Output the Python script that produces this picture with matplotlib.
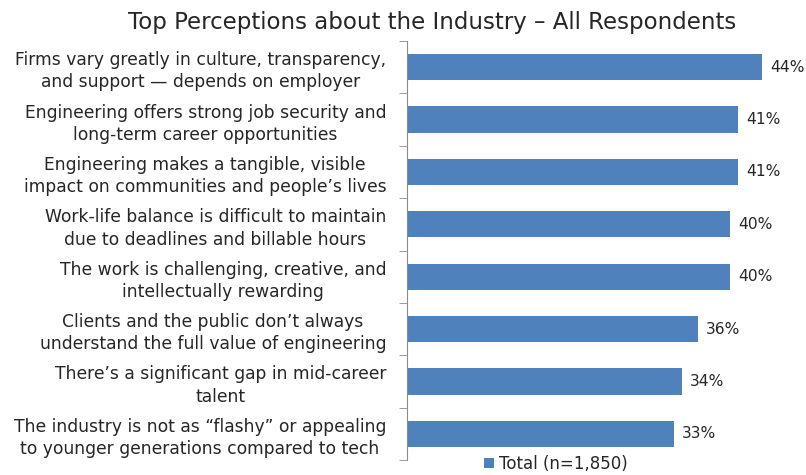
import matplotlib
matplotlib.use("Agg")
import matplotlib.pyplot as plt
import numpy as np

# ── Data ────────────────────────────────────────────────────────────────────
labels = [
    "Firms vary greatly in culture, transparency,\nand support \u2014 depends on employer",
    "Engineering offers strong job security and\nlong-term career opportunities",
    "Engineering makes a tangible, visible\nimpact on communities and people\u2019s lives",
    "Work-life balance is difficult to maintain\ndue to deadlines and billable hours",
    "The work is challenging, creative, and\nintellectually rewarding",
    "Clients and the public don\u2019t always\nunderstand the full value of engineering",
    "There\u2019s a significant gap in mid-career\ntalent",
    "The industry is not as \u201cflashy\u201d or appealing\nto younger generations compared to tech",
]
values = [44, 41, 41, 40, 40, 36, 34, 33]

BAR_COLOR = "#4F81BD"
TEXT_COLOR = "#262626"
AXIS_COLOR = "#8C8C8C"

plt.rcParams["font.family"] = ["DejaVu Sans"]

fig = plt.figure(figsize=(8.06, 4.75), dpi=100)
ax = fig.add_axes([407 / 806, 1 - 460 / 475, 1 - 407 / 806, 419 / 475])

y = np.arange(len(values))
ax.barh(y, values, height=0.5, color=BAR_COLOR, label="Total (n=1,850)")
ax.set_ylim(len(values) - 0.5, -0.5)
ax.set_xlim(0, 49.4)

for yi, v in zip(y, values):
    ax.text(v + 1.0, yi, f"{v}%", va="center", ha="left",
            fontsize=11.2, color=TEXT_COLOR)

ax.set_yticks(y)
ax.set_yticklabels(labels, multialignment="center", fontsize=12.3,
                   color=TEXT_COLOR, linespacing=1.3)
ax.tick_params(axis="y", which="major", length=0, pad=15)
ax.set_yticks(np.arange(len(values) + 1) - 0.5, minor=True)
ax.tick_params(axis="y", which="minor", length=6, color=AXIS_COLOR)
ax.set_xticks([])

for side in ("top", "right", "bottom"):
    ax.spines[side].set_visible(False)
ax.spines["left"].set_color(AXIS_COLOR)

fig.text(432 / 806, 1 - 22 / 475, "Top Perceptions about the Industry \u2013 All Respondents",
         ha="center", va="center", fontsize=16.5, color=TEXT_COLOR)

ax.legend(loc="center", bbox_to_anchor=(556 / 806, 1 - 464 / 475),
          bbox_transform=fig.transFigure, frameon=False, fontsize=12,
          handlelength=0.6, handleheight=0.6, handletextpad=0.3,
          labelcolor=TEXT_COLOR)

fig.savefig("out.png", dpi=100)
